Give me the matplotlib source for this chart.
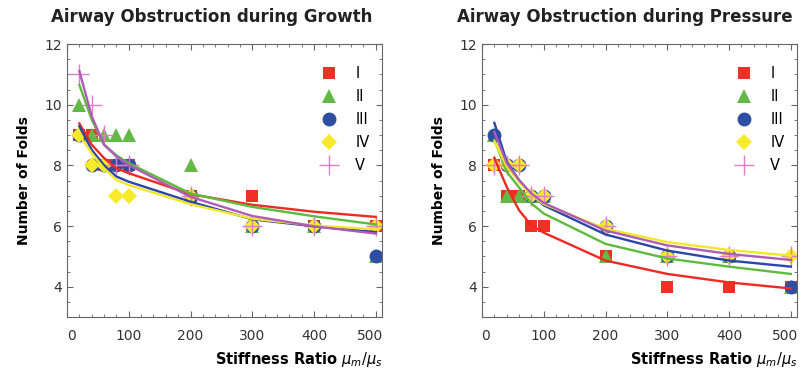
import matplotlib
matplotlib.use('Agg')
import matplotlib.pyplot as plt
from matplotlib.ticker import MultipleLocator
from matplotlib.transforms import ScaledTranslation

# stiffness ratios
ratios = [20, 40, 60, 80, 100, 200, 300, 400, 500]
series = ['I', 'II', 'III', 'IV', 'V']

### Growth: measured folds ###
grow_pts = {
    'I':   [9, 9, 8, 8, 8, 7, 7, 6, 6],
    'II':  [10, 9, 9, 9, 9, 8, 6, 6, 5],
    'III': [9, 8, 8, 8, 8, 7, 6, 6, 5],
    'IV':  [9, 8, 8, 7, 7, 7, 6, 6, 6],
    'V':   [11, 10, 9, 8, 8, 7, 6, 6, 6],
}
# Growth: fitted curves
grow_fit = {
    'I':   [9.38, 8.68, 8.24, 7.90, 7.74, 7.05, 6.70, 6.47, 6.30],
    'II':  [10.65, 9.51, 8.68, 8.33, 8.07, 7.07, 6.63, 6.32, 6.05],
    'III': [9.29, 8.51, 8.00, 7.63, 7.46, 6.80, 6.22, 5.99, 5.80],
    'IV':  [9.00, 8.40, 7.90, 7.52, 7.35, 6.72, 6.24, 6.02, 5.89],
    'V':   [11.11, 9.62, 8.68, 8.29, 8.01, 6.96, 6.33, 5.99, 5.75],
}

### Pressure: measured folds ###
pres_pts = {
    'I':   [8, 7, 7, 6, 6, 5, 4, 4, 4],
    'II':  [9, 7, 7, 7, 7, 5, 5, 5, 4],
    'III': [9, 8, 8, 7, 7, 6, 5, 5, 4],
    'IV':  [8, 8, 8, 7, 7, 6, 5, 5, 5],
    'V':   [8, 8, 8, 7, 7, 6, 5, 5, 5],
}
# Pressure: fitted curves
pres_fit = {
    'I':   [8.24, 7.29, 6.52, 6.02, 5.78, 4.86, 4.42, 4.14, 3.94],
    'II':  [8.84, 7.79, 7.27, 6.74, 6.41, 5.41, 4.93, 4.66, 4.42],
    'III': [9.40, 8.12, 7.51, 7.04, 6.68, 5.72, 5.19, 4.86, 4.66],
    'IV':  [8.79, 7.96, 7.46, 7.02, 6.72, 5.91, 5.47, 5.21, 5.02],
    'V':   [9.10, 8.07, 7.51, 7.07, 6.76, 5.85, 5.36, 5.08, 4.88],
}

mark_col = {'I': '#ee3124', 'II': '#62b946', 'III': '#2e4ea3', 'IV': '#f6ea2a', 'V': '#e57cc4'}
line_col = {'I': '#ee2a22', 'II': '#5cbc3c', 'III': '#2b46a8', 'IV': '#f2e826', 'V': '#b05cb6'}
marker = {'I': 's', 'II': '^', 'III': 'o', 'IV': 'D', 'V': '+'}
msize = {'I': 9, 'II': 10, 'III': 10, 'IV': 8, 'V': 14}

fig = plt.figure(figsize=(8.01, 3.76), dpi=100)
ax1 = fig.add_axes([67/801, 1-317/376, 315/801, 273/376])
ax2 = fig.add_axes([482/801, 1-317/376, 315/801, 273/376])

def draw(ax, pts, fit, title, tx):
    for s in series:
        kw = dict(color=mark_col[s], marker=marker[s], linestyle='none',
                  markersize=msize[s], label=s, zorder=2)
        if s == 'V':
            kw['markeredgewidth'] = 1.0
        else:
            kw['markeredgewidth'] = 0
        ax.plot(ratios, pts[s], **kw)
    for s in series:
        ax.plot(ratios, fit[s], color=line_col[s], lw=1.7, zorder=3)
    ax.set_xlim(0, 510)
    ax.set_ylim(3, 12)
    ax.set_yticks([4, 6, 8, 10, 12])
    ax.set_xticks([0, 100, 200, 300, 400, 500])
    ax.xaxis.set_minor_locator(MultipleLocator(20))
    ax.yaxis.set_minor_locator(MultipleLocator(0.5))
    ax.tick_params(which='both', direction='in', top=True, right=True,
                   color='#666666', labelsize=10, labelcolor='#333333')
    ax.tick_params(which='major', length=4)
    ax.tick_params(which='minor', length=2)
    ax.tick_params(axis='x', pad=9)
    # end labels sit a bit inside the frame, as in the original
    xl = ax.get_xticklabels()
    xl[0].set_transform(xl[0].get_transform() + ScaledTranslation(4/100, 0, fig.dpi_scale_trans))
    xl[-1].set_transform(xl[-1].get_transform() + ScaledTranslation(-6/100, 0, fig.dpi_scale_trans))
    for sp in ax.spines.values():
        sp.set_color('#666666')
    ax.set_ylabel('Number of Folds', fontsize=10, fontweight='bold', labelpad=10)
    ax.set_xlabel(r'Stiffness Ratio $\mu_m/\mu_s$', fontsize=10.5,
                  fontweight='bold', loc='right', labelpad=5)
    ax.legend(loc='upper right', frameon=False, fontsize=10.5,
              handletextpad=0.8, labelspacing=0.55, borderaxespad=0,
              borderpad=0, bbox_to_anchor=(0.96, 0.92))
    fig.text(tx, 1-17/376, title, ha='center', va='center',
             fontsize=12, fontweight='bold', color='#222222')

draw(ax1, grow_pts, grow_fit, 'Airway Obstruction during Growth', 212/801)
draw(ax2, pres_pts, pres_fit, 'Airway Obstruction during Pressure', 625/801)

fig.savefig('out.png', dpi=100)
